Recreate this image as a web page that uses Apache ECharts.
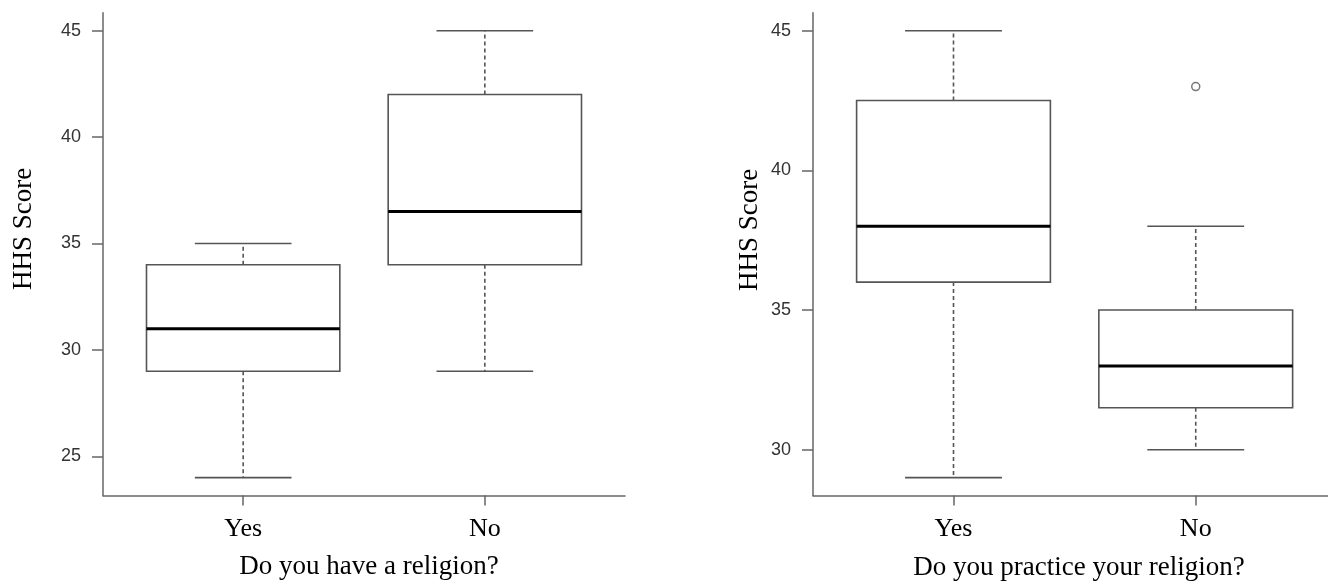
<!DOCTYPE html>
<html>
<head>
<meta charset="utf-8">
<script src="https://cdn.jsdelivr.net/npm/echarts@6/dist/echarts.min.js"></script>
<style>
html,body{margin:0;padding:0;background:#fff;}
#chart{width:1328px;height:583px;}
</style>
</head>
<body>
<div id="chart"></div>
<script>
// ---- data ----
const categories = ['Yes', 'No'];
const religionLow    = [24, 29];
const religionQ1     = [29, 34];
const religionMedian = [31, 36.5];
const religionQ3     = [34, 42];
const religionHigh   = [35, 45];

const practiceLow    = [29, 30];
const practiceQ1     = [36, 31.5];
const practiceMedian = [38, 33];
const practiceQ3     = [42.5, 35];
const practiceHigh   = [45, 38];
const practiceOutlierGroup = [2];
const practiceOutlierValue = [43];

const religionTicks = [25, 30, 35, 40, 45];
const practiceTicks = [30, 35, 40, 45];
const categoryPositions = [1, 2];

const xTitleLeft = 'Do you have a religion?';
const xTitleRight = 'Do you practice your religion?';
const yTitle = 'HHS Score';

// ---- build ----
function boxData(low, q1, med, q3, high) {
  return categories.map((c, i) => [i + 1, low[i], q1[i], med[i], q3[i], high[i]]);
}

const boxColor = '#555';
function renderBox(params, api) {
  const x = api.value(0);
  const pLow = api.coord([x, api.value(1)]);
  const pQ1 = api.coord([x, api.value(2)]);
  const pMed = api.coord([x, api.value(3)]);
  const pQ3 = api.coord([x, api.value(4)]);
  const pHigh = api.coord([x, api.value(5)]);
  const bw = api.size([0.8, 0])[0];
  const cx = pMed[0];
  const half = bw / 2, capHalf = bw / 4;
  const solid = {stroke: boxColor, lineWidth: 1.6, fill: null};
  const dashed = {stroke: boxColor, lineWidth: 1.6, lineDash: [4, 3], fill: null};
  return {
    type: 'group',
    children: [
      {type: 'line', shape: {x1: cx, y1: pQ3[1], x2: cx, y2: pHigh[1]}, style: dashed},
      {type: 'line', shape: {x1: cx, y1: pQ1[1], x2: cx, y2: pLow[1]}, style: dashed},
      {type: 'line', shape: {x1: cx - capHalf, y1: pHigh[1], x2: cx + capHalf, y2: pHigh[1]}, style: solid},
      {type: 'line', shape: {x1: cx - capHalf, y1: pLow[1], x2: cx + capHalf, y2: pLow[1]}, style: solid},
      {type: 'rect', shape: {x: cx - half, y: pQ3[1], width: bw, height: pQ1[1] - pQ3[1]},
        style: {stroke: boxColor, lineWidth: 1.6, fill: '#fff'}},
      {type: 'line', shape: {x1: cx - half, y1: pMed[1], x2: cx + half, y2: pMed[1]},
        style: {stroke: '#000', lineWidth: 3}}
    ]
  };
}

const axisGray = '#666';
function makeX(idx, max) {
  return {
    type: 'value', gridIndex: idx, min: 0.42, max: max,
    axisLine: {show: true, onZero: false, lineStyle: {color: axisGray, width: 1.5}},
    axisTick: {show: true, customValues: categoryPositions, length: 10, lineStyle: {color: axisGray, width: 1.5}},
    axisLabel: {customValues: categoryPositions, formatter: v => categories[Math.round(v) - 1],
      fontFamily: 'Liberation Serif', fontSize: 26, color: '#000', margin: 21},
    splitLine: {show: false}
  };
}
function makeY(idx, min, max, ticks) {
  return {
    type: 'value', gridIndex: idx, min: min, max: max,
    axisLine: {show: true, onZero: false, lineStyle: {color: axisGray, width: 1.5}},
    axisTick: {show: true, customValues: ticks, length: 11, lineStyle: {color: axisGray, width: 1.5}},
    axisLabel: {customValues: ticks, fontFamily: 'Liberation Sans', fontSize: 18, color: '#333', margin: 22},
    splitLine: {show: false}
  };
}

const serif27 = '27px "Liberation Serif"';
const chart = echarts.init(document.getElementById('chart'), null, {renderer: 'canvas'});
chart.setOption({
  backgroundColor: '#fff',
  animation: false,
  grid: [
    {left: 103, top: 12.8, width: 522, height: 482.7},
    {left: 813, top: 12.8, width: 515, height: 482.7}
  ],
  xAxis: [makeX(0, 2.58), makeX(1, 2.546)],
  yAxis: [makeY(0, 23.16, 45.84, religionTicks), makeY(1, 28.36, 45.64, practiceTicks)],
  graphic: [
    {type: 'text', x: 24, y: 229, rotation: Math.PI / 2,
      style: {text: yTitle, font: serif27, fill: '#000', align: 'center', verticalAlign: 'middle'}},
    {type: 'text', x: 750, y: 230, rotation: Math.PI / 2,
      style: {text: yTitle, font: serif27, fill: '#000', align: 'center', verticalAlign: 'middle'}},
    {type: 'text', x: 369, y: 567,
      style: {text: xTitleLeft, font: serif27, fill: '#000', align: 'center', verticalAlign: 'middle'}},
    {type: 'text', x: 1079, y: 568,
      style: {text: xTitleRight, font: serif27, fill: '#000', align: 'center', verticalAlign: 'middle'}}
  ],
  series: [
    {type: 'custom', xAxisIndex: 0, yAxisIndex: 0, renderItem: renderBox,
      encode: {x: 0, y: [1, 2, 3, 4, 5]},
      data: boxData(religionLow, religionQ1, religionMedian, religionQ3, religionHigh)},
    {type: 'custom', xAxisIndex: 1, yAxisIndex: 1, renderItem: renderBox,
      encode: {x: 0, y: [1, 2, 3, 4, 5]},
      data: boxData(practiceLow, practiceQ1, practiceMedian, practiceQ3, practiceHigh)},
    {type: 'scatter', xAxisIndex: 1, yAxisIndex: 1, symbol: 'circle', symbolSize: 8,
      itemStyle: {color: 'rgba(0,0,0,0)', borderColor: boxColor, borderWidth: 1.5},
      data: practiceOutlierGroup.map((g, i) => [g, practiceOutlierValue[i]])}
  ]
});
</script>
</body>
</html>
